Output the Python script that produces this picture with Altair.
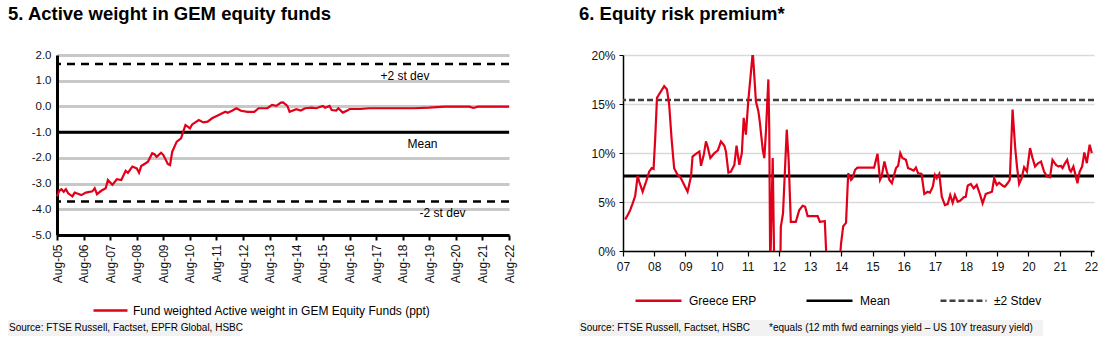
import altair as alt
import pandas as pd

FONT = "Liberation Sans"
RED = "#e1001a"

# ---------------- Left chart data ----------------
left_title = "5. Active weight in GEM equity funds"
left_series = "Fund weighted Active weight in GEM Equity Funds (ppt)"
left_source = "Source: FTSE Russell, Factset, EPFR Global, HSBC"
left_dates = [
    "2005-08", "2005-09", "2005-10", "2005-11", "2005-12", "2006-01", "2006-03", "2006-04",
    "2006-07", "2006-09", "2006-12", "2007-01", "2007-02", "2007-04", "2007-06", "2007-07",
    "2007-09", "2007-11", "2008-01", "2008-03", "2008-04", "2008-06", "2008-08", "2008-09",
    "2008-10", "2008-12", "2009-01", "2009-03", "2009-04", "2009-05", "2009-07", "2009-08",
    "2009-10", "2009-11", "2009-12", "2010-02", "2010-04", "2010-05", "2010-06", "2010-08",
    "2010-09", "2010-12", "2011-02", "2011-04", "2011-06", "2011-09", "2011-12", "2012-01",
    "2012-03", "2012-05", "2012-07", "2012-10", "2013-01", "2013-03", "2013-07", "2013-09",
    "2013-11", "2014-01", "2014-02", "2014-04", "2014-05", "2014-08", "2014-10", "2014-12",
    "2015-03", "2015-05", "2015-08", "2015-09", "2015-11", "2015-12", "2016-02", "2016-03",
    "2016-05", "2016-07", "2016-08", "2017-01", "2017-05", "2017-10", "2018-04", "2019-01",
    "2019-08", "2020-03", "2021-02", "2021-04", "2021-06", "2022-08",
]
left_values = [
    -3.50, -3.28, -3.22, -3.32, -3.22, -3.38, -3.50, -3.35,
    -3.45, -3.35, -3.30, -3.18, -3.41, -3.28, -3.18, -2.86,
    -3.05, -2.83, -2.86, -2.50, -2.58, -2.34, -2.41, -2.58,
    -2.32, -2.21, -2.15, -1.82, -1.86, -1.96, -1.80, -1.89,
    -2.24, -2.28, -1.76, -1.37, -1.24, -0.98, -0.72, -0.85,
    -0.70, -0.53, -0.62, -0.59, -0.46, -0.33, -0.21, -0.25,
    -0.17, -0.07, -0.17, -0.21, -0.21, -0.07, -0.07, 0.06,
    0.02, 0.15, 0.16, 0.02, -0.21, -0.11, -0.16, -0.07,
    -0.05, -0.07, 0.02, -0.05, 0.02, -0.14, -0.16, -0.07,
    -0.24, -0.16, -0.10, -0.10, -0.07, -0.07, -0.07, -0.07,
    -0.05, -0.01, -0.01, -0.06, -0.01, -0.01,
]
left_tick_years = list(range(2005, 2023))
left_y_ticks = [-5, -4, -3, -2, -1, 0, 1, 2]
left_mean = [-1.0]
left_bands = [1.65, -3.7]
ann_text = ["+2 st dev", "Mean", "-2 st dev"]
ann_dates = ["2018-09", "2019-05", "2020-02"]
ann_values = [1.18, -1.46, -4.15]

# ---------------- Right chart data ----------------
right_title = "6. Equity risk premium*"
right_source = "Source: FTSE Russell, Factset, HSBC"
right_note = "*equals (12 mth fwd earnings yield \u2013 US 10Y treasury yield)"
right_names = ["Greece ERP", "Mean", "\u00b12 Stdev"]
right_years = [
    2007.07, 2007.15, 2007.23, 2007.31, 2007.39, 2007.47, 2007.52, 2007.63, 2007.74, 2007.84,
    2007.92, 2007.98, 2008.03, 2008.09, 2008.22, 2008.32, 2008.41, 2008.48, 2008.56, 2008.64,
    2008.75, 2008.83, 2008.91, 2008.99, 2009.07, 2009.18, 2009.23, 2009.37, 2009.45, 2009.50,
    2009.59, 2009.66, 2009.71, 2009.80, 2009.93, 2010.04, 2010.14, 2010.25, 2010.30, 2010.38,
    2010.46, 2010.57, 2010.64, 2010.73, 2010.81, 2010.87, 2010.94, 2011.02, 2011.10, 2011.16,
    2011.21, 2011.26, 2011.34, 2011.39, 2011.48, 2011.53, 2011.58, 2011.66, 2011.69, 2011.72,
    2011.80, 2011.85, 2012.04, 2012.06, 2012.13, 2012.25, 2012.31, 2012.38, 2012.54, 2012.65,
    2012.76, 2012.84, 2012.92, 2013.24, 2013.31, 2013.47, 2013.54, 2013.93, 2013.99, 2014.06,
    2014.15, 2014.22, 2014.31, 2014.36, 2014.44, 2014.52, 2015.05, 2015.16, 2015.24, 2015.29,
    2015.38, 2015.46, 2015.54, 2015.62, 2015.75, 2015.82, 2015.89, 2015.96, 2016.07, 2016.14,
    2016.23, 2016.32, 2016.39, 2016.46, 2016.57, 2016.66, 2016.77, 2016.84, 2016.93, 2017.00,
    2017.06, 2017.14, 2017.22, 2017.32, 2017.41, 2017.49, 2017.57, 2017.64, 2017.73, 2017.81,
    2017.92, 2017.99, 2018.05, 2018.15, 2018.24, 2018.34, 2018.44, 2018.53, 2018.63, 2018.74,
    2018.83, 2018.90, 2018.98, 2019.06, 2019.17, 2019.24, 2019.33, 2019.40, 2019.49, 2019.57,
    2019.63, 2019.70, 2019.78, 2019.86, 2019.95, 2020.05, 2020.13, 2020.21, 2020.31, 2020.40,
    2020.50, 2020.59, 2020.69, 2020.77, 2020.88, 2020.96, 2021.04, 2021.09, 2021.16, 2021.24,
    2021.32, 2021.36, 2021.44, 2021.57, 2021.64, 2021.72, 2021.79, 2021.87, 2021.96, 2022.03,
]
right_values = [
    3.22, 3.66, 4.17, 4.86, 5.61, 7.66, 7.08, 6.05, 7.08, 8.10,
    8.45, 8.38, 11.35, 15.63, 16.31, 16.82, 16.48, 14.94, 11.35, 8.45,
    7.76, 7.59, 7.08, 6.56, 6.05, 7.59, 9.64, 9.99, 10.15, 8.69,
    9.82, 11.18, 10.67, 9.48, 9.99, 10.26, 11.18, 10.74, 10.15, 8.00,
    8.10, 8.79, 10.74, 8.79, 9.99, 13.58, 11.87, 15.46, 18.19, 20.30,
    17.85, 15.28, 14.26, 13.07, 10.33, 9.48, 12.04, 17.51, 12.20, -2.00,
    9.48, -2.00, -2.00, 2.46, 3.84, 12.38, 9.30, 2.97, 2.97, 4.17,
    4.62, 4.51, 3.56, 3.56, 2.97, 3.05, -2.00, -2.00, 0.75, 2.53,
    2.87, 7.94, 7.25, 7.43, 8.28, 8.51, 8.51, 9.92, 7.25, 7.59,
    9.13, 8.10, 7.25, 6.91, 8.45, 8.69, 9.99, 9.48, 9.30, 8.45,
    8.35, 8.21, 8.51, 7.94, 7.87, 5.82, 6.05, 5.95, 6.56, 7.76,
    7.43, 7.87, 5.54, 4.69, 4.79, 5.71, 4.92, 5.71, 5.03, 5.13,
    5.48, 5.54, 6.67, 6.84, 6.40, 6.74, 5.82, 4.86, 5.82, 5.95,
    6.05, 7.43, 6.74, 6.97, 6.67, 6.56, 6.91, 7.25, 14.43, 10.67,
    8.62, 6.84, 7.43, 8.55, 8.10, 10.50, 9.48, 8.62, 8.96, 9.13,
    8.10, 7.59, 7.53, 9.30, 8.79, 8.62, 8.69, 8.45, 8.89, 9.30,
    8.28, 8.10, 8.62, 6.91, 8.10, 8.62, 10.05, 8.96, 10.84, 9.99,
]
right_x_ticks = list(range(2007, 2023))
right_y_ticks = [0, 5, 10, 15, 20]
right_mean = [7.66]
right_plus2 = [15.42]

# ---------------- helpers ----------------
def title_params(text):
    return alt.TitleParams(text=text, anchor="start", frame="bounds", font=FONT,
                           fontSize=18.5, fontWeight="bold", color="black", offset=26)

one_row = pd.DataFrame({"k": [0]})

# ---------------- Left chart ----------------
ldf = pd.DataFrame({"date": left_dates, "value": left_values, "series": left_series})
x_left = alt.X(
    "date:T",
    scale=alt.Scale(type="utc", nice=False,
                    domain=[alt.DateTime(year=2005, month=8, date=1, utc=True),
                            alt.DateTime(year=2022, month=8, date=1, utc=True)]),
    axis=alt.Axis(values=[alt.DateTime(year=y, month=8, date=1, utc=True) for y in left_tick_years],
                  tickCount=len(left_tick_years),
                  labelExpr="utcFormat(datum.value, '%b-%y')", labelAngle=270, labelAlign="right",
                  labelBaseline="middle", labelFont=FONT, labelFontSize=12, labelColor="#111",
                  labelPadding=4, labelOverlap=False, labelFlush=False, grid=False,
                  domainColor="black", domainWidth=3, tickColor="black", tickWidth=2,
                  tickSize=5, title=None),
)
y_left = alt.Y(
    "value:Q",
    scale=alt.Scale(domain=[-5, 2], nice=False, zero=False),
    axis=alt.Axis(values=left_y_ticks, tickCount=len(left_y_ticks),
                  labelExpr="replace(format(datum.value, '.1f'), '\u2212', '-')",
                  labelFont=FONT, labelFontSize=11.5, labelColor="#111", labelPadding=6,
                  labelOverlap=False, grid=True, gridColor="#c8c8c8", gridWidth=3,
                  domainColor="black", domainWidth=3, ticks=False, title=None),
)

l_mean = alt.Chart(pd.DataFrame({"value": left_mean})).mark_rule(
    color="black", strokeWidth=3).encode(y=alt.Y("value:Q"))
l_bands = alt.Chart(pd.DataFrame({"value": left_bands})).mark_rule(
    color="black", strokeWidth=2.5, strokeDash=[8, 6]).encode(y=alt.Y("value:Q"))
l_line = alt.Chart(ldf).mark_line(strokeWidth=2.2).encode(
    x=x_left, y=y_left,
    color=alt.Color("series:N", scale=alt.Scale(domain=[left_series], range=[RED]),
                    legend=alt.Legend(orient="none", legendX=35, legendY=237, title=None,
                                      symbolType="stroke", symbolSize=1156, symbolStrokeWidth=2.5,
                                      labelFont=FONT, labelFontSize=12, labelColor="black",
                                      labelOffset=4, labelLimit=400)),
)
l_ann = alt.Chart(pd.DataFrame({"date": ann_dates, "value": ann_values, "t": ann_text})).mark_text(
    font=FONT, fontSize=12, color="black", align="center", baseline="middle").encode(
    x=alt.X("date:T"), y=alt.Y("value:Q"), text="t:N")
l_src_bg = alt.Chart(one_row).mark_rect(color="#f2f2f2").encode(
    x=alt.value(-49), x2=alt.value(183), y=alt.value(265), y2=alt.value(281))
l_src = alt.Chart(one_row).mark_text(font=FONT, fontSize=10, color="black", align="left",
                                     baseline="middle").encode(
    x=alt.value(-48), y=alt.value(273), text=alt.value(left_source))

left = alt.layer(l_src_bg, l_src, l_mean, l_bands, l_line, l_ann).properties(
    width=452, height=180, title=title_params(left_title))

# ---------------- Right chart ----------------
rdf = pd.DataFrame({"year": right_years, "value": right_values, "series": right_names[0]})
r_legend = alt.Legend(orient="none", legendX=11, legendY=221, title=None, direction="horizontal",
                      symbolType="stroke", symbolSize=2116, symbolStrokeWidth=2.5,
                      labelFont=FONT, labelFontSize=12, labelColor="black", labelOffset=6,
                      columnPadding=44)
r_color = alt.Color("series:N", scale=alt.Scale(domain=right_names, range=[RED, "black", "#404040"]),
                    legend=r_legend)
r_dash = alt.StrokeDash("series:N", scale=alt.Scale(domain=right_names,
                                                     range=[[1, 0], [1, 0], [6, 3]]),
                        legend=r_legend)
x_right = alt.X(
    "year:Q",
    scale=alt.Scale(domain=[2007, 2022.1], nice=False, zero=False),
    axis=alt.Axis(values=right_x_ticks, tickCount=len(right_x_ticks),
                  labelExpr="slice(toString(datum.value), 2)",
                  labelFont=FONT, labelFontSize=12, labelColor="#111", labelPadding=5,
                  labelOverlap=False, labelFlush=False, grid=False, domainColor="black",
                  domainWidth=1.5, tickColor="black", tickWidth=1.2, tickSize=5, title=None),
)
y_right = alt.Y(
    "value:Q",
    scale=alt.Scale(domain=[0, 20], nice=False, zero=False),
    axis=alt.Axis(values=right_y_ticks, tickCount=len(right_y_ticks),
                  labelExpr="datum.value + '%'", labelFont=FONT,
                  labelFontSize=12, labelColor="#111", labelPadding=4, grid=True,
                  gridColor="#d9d9d9", gridWidth=1.5, domainColor="black", domainWidth=1.5,
                  tickColor="black", tickSize=4, title=None),
)
r_line = alt.Chart(rdf).mark_line(strokeWidth=2.2, clip=True).encode(
    x=x_right, y=y_right, color=r_color, strokeDash=r_dash)
r_mean = alt.Chart(pd.DataFrame({"value": right_mean, "series": right_names[1]})).mark_rule(
    strokeWidth=3).encode(y=alt.Y("value:Q"), color=r_color, strokeDash=r_dash)
r_sd = alt.Chart(pd.DataFrame({"value": right_plus2, "series": right_names[2]})).mark_rule(
    strokeWidth=2.5).encode(y=alt.Y("value:Q"), color=r_color, strokeDash=r_dash)
r_src_bg = alt.Chart(one_row).mark_rect(color="#f2f2f2").encode(
    x=alt.value(-44), x2=alt.value(420), y=alt.value(265), y2=alt.value(281))
r_src = alt.Chart(one_row).mark_text(font=FONT, fontSize=10, color="black", align="left",
                                     baseline="middle").encode(
    x=alt.value(-43), y=alt.value(273), text=alt.value(right_source))
r_note = alt.Chart(one_row).mark_text(font=FONT, fontSize=10, color="black", align="left",
                                      baseline="middle").encode(
    x=alt.value(146), y=alt.value(273), text=alt.value(right_note))

right = alt.layer(r_src_bg, r_src, r_note, r_sd, r_mean, r_line).properties(
    width=471, height=196, title=title_params(right_title))

chart = alt.hconcat(left, right, spacing=64).resolve_scale(
    color="independent", strokeDash="independent").resolve_legend(
    color="independent", strokeDash="independent").properties(
    padding={"left": 8, "top": 4, "right": 5, "bottom": 2}).configure_view(stroke=None)

chart.save("out.html", embed_options={"renderer": "svg", "actions": False})
